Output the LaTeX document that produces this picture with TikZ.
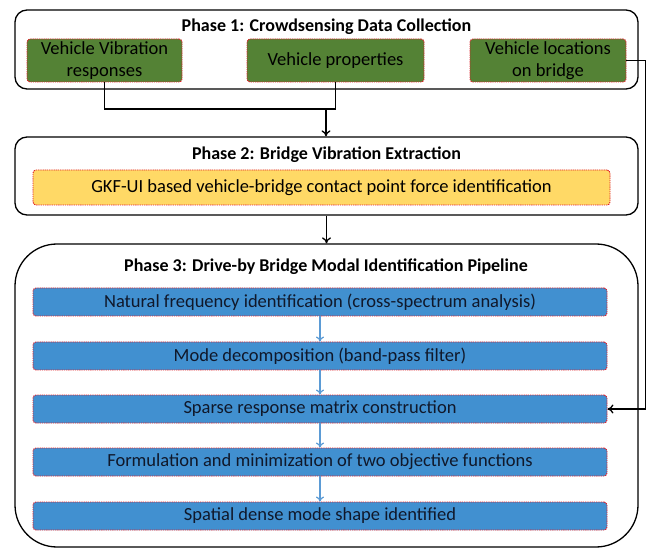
\documentclass[tikz,border=0pt]{standalone}
\usepackage{fontspec}
\setmainfont{Carlito}
\usetikzlibrary{arrows.meta}
\definecolor{gfill}{HTML}{548235}
\definecolor{yfill}{HTML}{FFD966}
\definecolor{bfill}{HTML}{4190D0}
\definecolor{barr}{HTML}{5B9BD5}
\definecolor{rdash}{HTML}{E0202A}
\definecolor{btext}{HTML}{10182A}
\tikzset{
  phasebox/.style={draw=black, line width=1.3pt, fill=white, rounded corners=12pt, inner sep=0pt},
  ptitle/.style={font=\fontsize{18}{20}\selectfont\bfseries, inner sep=0pt},
  inbox/.style={draw=rdash, line width=0.9pt, dash pattern=on 1.3pt off 0.9pt, rounded corners=3pt, inner sep=0pt, align=center, font=\fontsize{18.5}{22}\selectfont},
  gbox/.style={inbox, fill=gfill},
  ybox/.style={inbox, fill=yfill},
  bbox/.style={inbox, fill=bfill, text=btext, minimum width=574pt, minimum height=28pt},
  conn/.style={draw=black, line width=1.3pt},
  carrow/.style={conn, -{To[length=6pt,width=9pt]}},
  barrow/.style={draw=barr, line width=1.2pt, -{To[length=5pt,width=8pt]}}
}
\begin{document}
\begin{tikzpicture}[x=1pt,y=-1pt]
\useasboundingbox (0,0) rectangle (654,548);
% Phase boxes
\node[phasebox, minimum width=623pt, minimum height=79pt] (p1) at (326.5,49.5) {};
\node[phasebox, minimum width=623pt, minimum height=78pt] (p2) at (326.5,176) {};
\node[phasebox, rounded corners=42pt, minimum width=623pt, minimum height=303pt] (p3) at (326.5,395.5) {};
% Titles
\node[ptitle] (t1) at (326.5,27) {Phase 1: Crowdsensing Data Collection};
\node[ptitle] (t2) at (326.5,155) {Phase 2: Bridge Vibration Extraction};
\node[ptitle] (t3) at (326,267) {Phase 3: Drive-by Bridge Modal Identification Pipeline};
% Phase 1 inputs
\node[gbox, minimum width=155pt, minimum height=43pt] (vv) at (104.5,60.5) {Vehicle Vibration\\responses};
\node[gbox, minimum width=177pt, minimum height=43pt] (vp) at (335.5,60.5) {Vehicle properties};
\node[gbox, minimum width=156pt, minimum height=43pt] (vl) at (548,60.5) {Vehicle locations\\on bridge};
% Phase 2
\node[ybox, minimum width=577pt, minimum height=35pt] (gkf) at (321.5,187.5) {GKF-UI based vehicle-bridge contact point force identification};
% Phase 3
\node[bbox] (b1) at (320,302) {Natural frequency identification (cross-spectrum analysis)};
\node[bbox] (b2) at (320,356) {Mode decomposition (band-pass filter)};
\node[bbox] (b3) at (320,409) {Sparse response matrix construction};
\node[bbox] (b4) at (320,462) {Formulation and minimization of two objective functions};
\node[bbox] (b5) at (320,516) {Spatial dense mode shape identified};
% Connectors
\coordinate (jn) at (326,109);
\draw[conn] (vv.south) |- (vp.south |- jn) -- (vp.south);
\draw[carrow] (jn) -- (jn |- p2.north);
\draw[carrow] (vl.east) -- ++(19,0) |- (b3.east);
\draw[carrow] (p2.south) -- (p3.north);
\draw[barrow] (b1.south) -- (b2.north);
\draw[barrow] (b2.south) -- (b3.north);
\draw[barrow] (b3.south) -- (b4.north);
\draw[barrow] (b4.south) -- (b5.north);
\end{tikzpicture}
\end{document}
